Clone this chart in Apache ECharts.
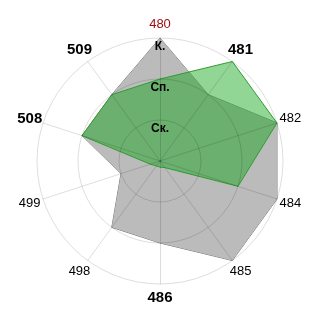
<!DOCTYPE html>
<html><head><meta charset="utf-8">
<script src="https://cdn.jsdelivr.net/npm/echarts@6/dist/echarts.min.js"></script>
<style>html,body{margin:0;padding:0;background:#fff}#c{width:320px;height:320px}</style>
</head><body><div id="c"></div>
<script>
// clockwise order starting at top
var categories = ['480','481','482','484','485','486','498','499','508','509'];
var levelLabels = ['', 'Ск.', 'Сп.', 'К.'];
var grayValues  = [3, 2, 3, 3, 3, 2, 2, 1, 2, 2];
var greenValues = [2, 3, 3, 2, 0.2, 0.15, 0.15, 0.25, 2, 2];
var boldCats = ['481','486','508','509'];
var redCats = ['480'];

// ECharts radar runs counter-clockwise: reorder so the picture runs clockwise
function ccw(arr){ return [arr[0]].concat(arr.slice(1).reverse()); }

var chart = echarts.init(document.getElementById('c'), null, {renderer:'canvas'});
var indicator = ccw(categories).map(function(c, i){
  var ind = {name: c, min: 0, max: 3};
  if (i === 0) {
    ind.axisLabel = {
      show: true, margin: 0, align: 'center', verticalAlign: 'top',
      padding: [3,0,0,0],
      color: '#000', fontWeight: 'bold', fontSize: 12, fontFamily: 'Liberation Sans',
      showMinLabel: false,
      formatter: function(v){ return levelLabels[Math.round(v)] || ''; }
    };
  }
  return ind;
});
chart.setOption({
  animation: false,
  radar: {
    z: 5,
    center: [160, 161],
    radius: 123,
    startAngle: 90,
    shape: 'circle',
    splitNumber: 3,
    nameGap: 14,
    indicator: indicator,
    axisName: {
      fontFamily: 'Liberation Sans',
      align: 'center',
      verticalAlign: 'middle',
      formatter: function(name){
        if (redCats.indexOf(name) >= 0) return '{r|' + name + '}';
        if (boldCats.indexOf(name) >= 0) return '{b|' + name + '}';
        return '{n|' + name + '}';
      },
      rich: {
        r: {color: '#a01010', fontSize: 13, fontFamily: 'Liberation Sans'},
        b: {color: '#000', fontSize: 15, fontWeight: 'bold', fontFamily: 'Liberation Sans'},
        n: {color: '#000', fontSize: 13, fontFamily: 'Liberation Sans'}
      }
    },
    axisLine: {lineStyle: {color: 'rgba(0,0,0,0.135)', width: 1}},
    splitLine: {lineStyle: {color: 'rgba(0,0,0,0.135)', width: 1}},
    splitArea: {show: false},
    axisLabel: {show: false}
  },
  series: [{
    type: 'radar',
    symbol: 'none',
    z: 2,
    data: [
      {value: ccw(grayValues), name: 'gray',
       lineStyle: {color: '#777777', width: 1},
       areaStyle: {color: '#bbbbbb', opacity: 1}},
      {value: ccw(greenValues), name: 'green',
       lineStyle: {color: '#3c9a3c', width: 1},
       areaStyle: {color: 'rgba(10,165,20,0.45)', opacity: 1}}
    ]
  }]
});
</script></body></html>
